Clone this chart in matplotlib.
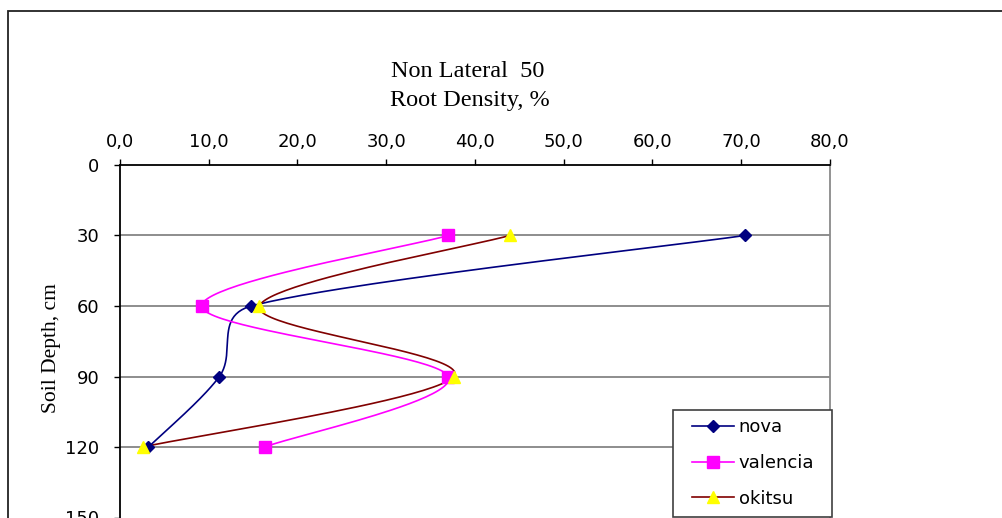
import numpy as np
import matplotlib
matplotlib.use("Agg")
import matplotlib.pyplot as plt
from matplotlib.patches import Rectangle

depths = [30, 60, 90, 120]
nova = [70.4, 14.8, 11.2, 3.2]
valencia = [37.0, 9.2, 37.0, 16.3]
okitsu = [43.9, 15.7, 37.6, 2.6]
x_ticks = [0, 10, 20, 30, 40, 50, 60, 70, 80]
y_ticks = [0, 30, 60, 90, 120, 150]

W, H = 1003, 518
fig = plt.figure(figsize=(W / 100, H / 100), dpi=100)
fig.patch.set_facecolor("white")

ax = fig.add_axes([120 / W, 0.5 / H, 710 / W, 352.5 / H])
ax.set_xlim(0, 80)
ax.set_ylim(150, 0)


def smooth(xs, ys, n=50):
    """Excel-like smoothed line (Bezier with limited control arms) in screen space."""
    pts = ax.transData.transform(np.column_stack([xs, ys]))
    P = np.vstack([pts[0], pts, pts[-1]])
    out = []
    for i in range(1, len(P) - 2):
        p0, p1, p2, p3 = P[i - 1], P[i], P[i + 1], P[i + 2]
        d12 = np.linalg.norm(p2 - p1)
        d02 = np.linalg.norm(p2 - p0)
        d13 = np.linalg.norm(p3 - p1)
        f = 1 / 6.0
        if d02 > 0 and d02 / 6.0 > d12 / 2.0:
            f = d12 / (2.0 * d02)
        g = 1 / 6.0
        if d13 > 0 and d13 / 6.0 > d12 / 2.0:
            g = d12 / (2.0 * d13)
        c1 = p1 + f * (p2 - p0)
        c2 = p2 - g * (p3 - p1)
        t = np.linspace(0, 1, n)[:, None]
        seg = ((1 - t) ** 3) * p1 + 3 * ((1 - t) ** 2) * t * c1 + 3 * (1 - t) * t ** 2 * c2 + t ** 3 * p2
        out.append(seg if i == 1 else seg[1:])
    curve = np.vstack(out)
    d = ax.transData.inverted().transform(curve)
    return d[:, 0], d[:, 1]


series = [
    ("nova", nova, "#000080", "D", "#000080", "#000080", 6.5),
    ("valencia", valencia, "#FF00FF", "s", "#FF00FF", "#FF00FF", 8),
    ("okitsu", okitsu, "#800000", "^", "#FFFF00", "#FFFF00", 8.5),
]
handles = []
for name, vals, lc, mk, mfc, mec, ms in series:
    sx, sy = smooth(vals, depths)
    ax.plot(sx, sy, color=lc, lw=1.2, zorder=3)
    ax.plot(vals, depths, ls="none", marker=mk, ms=ms, mfc=mfc, mec=mec, zorder=4)
    h, = ax.plot([], [], color=lc, lw=1.2, marker=mk, ms=ms, mfc=mfc, mec=mec, label=name)
    handles.append(h)

ax.xaxis.tick_top()
ax.set_xticks(x_ticks)
ax.set_xticklabels([f"{v:.1f}".replace(".", ",") for v in x_ticks])
ax.set_yticks(y_ticks)
ax.set_yticklabels([str(v) for v in y_ticks])
ax.tick_params(axis="x", direction="out", length=4, width=1, pad=6, labelsize=13, colors="black")
ax.tick_params(axis="y", direction="out", length=4, width=1, pad=11, labelsize=13, colors="black")
for lab in ax.get_xticklabels() + ax.get_yticklabels():
    lab.set_fontfamily("DejaVu Sans")

for yv in y_ticks[1:-1]:
    ax.axhline(yv, color="#7a7a7a", lw=1.2, zorder=1)

ax.spines["left"].set_color("black")
ax.spines["left"].set_linewidth(1.3)
ax.spines["top"].set_color("black")
ax.spines["top"].set_linewidth(1.3)
ax.spines["right"].set_color("#8a8a8a")
ax.spines["right"].set_linewidth(1.3)
ax.spines["bottom"].set_visible(False)

fig.text(468 / W, 1 - 71 / H, "Non Lateral  50", ha="center", va="center",
         fontsize=17.5, family="Liberation Serif")
fig.text(470 / W, 1 - 100 / H, "Root Density, %", ha="center", va="center",
         fontsize=17.5, family="Liberation Serif")
fig.text(52 / W, 1 - 348 / H, "Soil Depth, cm", ha="center", va="center",
         rotation=90, fontsize=15.5, family="Liberation Serif")

leg = fig.legend(handles=handles, loc="center",
                 bbox_to_anchor=(753 / W, 1 - 463 / H), bbox_transform=fig.transFigure,
                 borderaxespad=0, frameon=False,
                 prop={"family": "DejaVu Sans", "size": 13},
                 handlelength=2.33, handletextpad=0.25, labelspacing=0.97,
                 borderpad=0, numpoints=1)

legbox = Rectangle((673 / W, 1 - 517 / H), 159 / W, 107 / H, transform=fig.transFigure,
                   fill=True, facecolor="white", edgecolor="#404040", lw=1.2, zorder=0.5)
fig.patches.append(legbox)

border = Rectangle((8 / W, -0.1), 1.2, 1.1 - 11 / H, transform=fig.transFigure,
                   fill=False, edgecolor="#222222", lw=1.3, clip_on=False)
fig.patches.append(border)

fig.savefig("out.png", dpi=100)
